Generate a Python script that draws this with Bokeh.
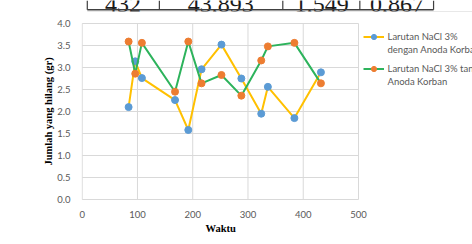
from bokeh.plotting import figure
from bokeh.layouts import column
from bokeh.models import Legend, LegendItem, Range1d, FixedTicker, NumeralTickFormatter, Title
from bokeh.core.properties import value
from bokeh.embed import file_html
from bokeh.resources import INLINE

# ---- data ----
waktu = [84, 96, 108, 168, 192, 216, 252, 288, 324, 336, 384, 432]
dengan_anoda = [2.10, 3.14, 2.76, 2.26, 1.58, 2.96, 3.52, 2.75, 1.95, 2.56, 1.85, 2.89]
tanpa_anoda = [3.59, 2.86, 3.56, 2.45, 3.59, 2.64, 2.83, 2.36, 3.16, 3.48, 3.56, 2.64]
x_ticks = [0, 100, 200, 300, 400, 500]
y_ticks = [0.0, 0.5, 1.0, 1.5, 2.0, 2.5, 3.0, 3.5, 4.0]
series_labels = [["Larutan NaCl 3%", "dengan Anoda Korban"],
                 ["Larutan NaCl 3% tanpa", "Anoda Korban"]]
x_title = "Waktu"
y_title = "Jumlah yang hilang (gr)"
# last row of the table shown above the chart (only its lower edge is visible)
table_row = ["432", "43,893", "1,549", "0,867"]

TICK_FONT = "Lato"
GRID = "#D9D9D9"
TXT = "#595959"

# ---- strip with the bottom of the table above the chart (page pixels) ----
top = figure(width=472, height=12, x_range=Range1d(0, 472), y_range=Range1d(12, 0),
             x_axis_type=None, y_axis_type=None, toolbar_location=None,
             output_backend="svg", min_border=0)
top.outline_line_color = None
top.grid.visible = False
top.text(x=[50, 168, 290, 381], y=[4.2] * 4, text=table_row,
         text_font=value("Liberation Serif"), text_font_size="24px",
         text_align="center", text_baseline="alphabetic", text_color="#1a1a1a")
top.segment(x0=[7], y0=[9.3], x1=[425], y1=[9.3], line_color="#404040", line_width=1.5)
top.segment(x0=[7, 94, 243, 336, 425], y0=[0] * 5, x1=[7, 94, 243, 336, 425], y1=[9.3] * 5,
            line_color="#404040", line_width=1.2)
top.segment(x0=[7], y0=[11.4], x1=[472], y1=[11.4], line_color=GRID, line_width=1)

# ---- main chart ----
# frame spans to the right page edge so that the legend can sit inside it
px_per_x = 276.3 / (x_ticks[-1] - x_ticks[0])
frame_left_px, frame_w = 81, 391
x_start = -0.7 / px_per_x
x_end = x_start + frame_w / px_per_x
y_pad = 1.0 / 44.0

p = figure(frame_width=frame_w, frame_height=178,
           min_border_left=frame_left_px, min_border_right=0, min_border_top=10, min_border_bottom=44,
           x_range=Range1d(x_start, x_end), y_range=Range1d(y_ticks[0] - y_pad, y_ticks[-1] + y_pad),
           toolbar_location=None, output_backend="svg")
p.outline_line_color = None
p.grid.visible = False

p.xaxis.ticker = FixedTicker(ticks=x_ticks)
p.yaxis.ticker = FixedTicker(ticks=y_ticks)
p.xaxis.bounds = (x_ticks[0], x_ticks[-1])
p.yaxis.formatter = NumeralTickFormatter(format="0.0")
for ax in (p.xaxis, p.yaxis):
    ax.axis_line_color = None
    ax.major_tick_line_color = None
    ax.minor_tick_line_color = None
    ax.major_label_text_font = TICK_FONT
    ax.major_label_text_font_size = "9.5px"
    ax.major_label_text_color = TXT
    ax.axis_label_text_font = "Liberation Serif"
    ax.axis_label_text_font_style = "bold"
    ax.axis_label_text_font_size = "10.5px"
    ax.axis_label_text_color = "#000000"
p.xaxis.major_label_standoff = 4
p.yaxis.major_label_standoff = 5
p.yaxis.axis_label = y_title
p.yaxis.axis_label_standoff = 0

# x-axis title centred under the plotted range (0..500), not under the whole frame
xt = Title(text=x_title, align="left", offset=124, standoff=1,
           text_font="Liberation Serif", text_font_style="bold",
           text_font_size="10.5px", text_color="#000000")
p.add_layout(xt, "below")

# gridlines limited to the plotted area
p.segment(x0=[x_ticks[0]] * len(y_ticks), y0=y_ticks, x1=[x_ticks[-1]] * len(y_ticks), y1=y_ticks,
          line_color=GRID, line_width=1)
p.segment(x0=x_ticks, y0=[y_ticks[0]] * len(x_ticks), x1=x_ticks, y1=[y_ticks[-1]] * len(x_ticks),
          line_color=GRID, line_width=1)

l1 = p.line(waktu, dengan_anoda, line_color="#FFC000", line_width=2)
m1 = p.scatter(waktu, dengan_anoda, size=7, fill_color="#5B9BD5", line_color="#5B9BD5")
l2 = p.line(waktu, tanpa_anoda, line_color="#2DB35C", line_width=2)
m2 = p.scatter(waktu, tanpa_anoda, size=7, fill_color="#ED7D31", line_color="#ED7D31")
# empty, invisible renderer used for the second text line of each legend entry
blank = p.scatter(x=[], y=[], size=1, fill_alpha=0, line_alpha=0)


def make_legend(lines, renderers, loc):
    lg = Legend(items=[LegendItem(label=lines[0], renderers=renderers),
                       LegendItem(label=lines[1], renderers=[blank])],
                location=loc)
    lg.padding = 0
    lg.margin = 0
    lg.spacing = 0
    lg.glyph_width = 21
    lg.glyph_height = 13
    lg.label_height = 13
    lg.label_standoff = 4
    lg.label_text_font = TICK_FONT
    lg.label_text_font_size = "9.5px"
    lg.label_text_color = TXT
    lg.border_line_color = None
    lg.background_fill_alpha = 0
    return lg


p.add_layout(make_legend(series_labels[0], [l1, m1], (281.5, 144)), "center")
p.add_layout(make_legend(series_labels[1], [l2, m2], (281.5, 112)), "center")

layout = column(top, p, spacing=0)
open("out.html", "w").write(file_html(layout, INLINE))
